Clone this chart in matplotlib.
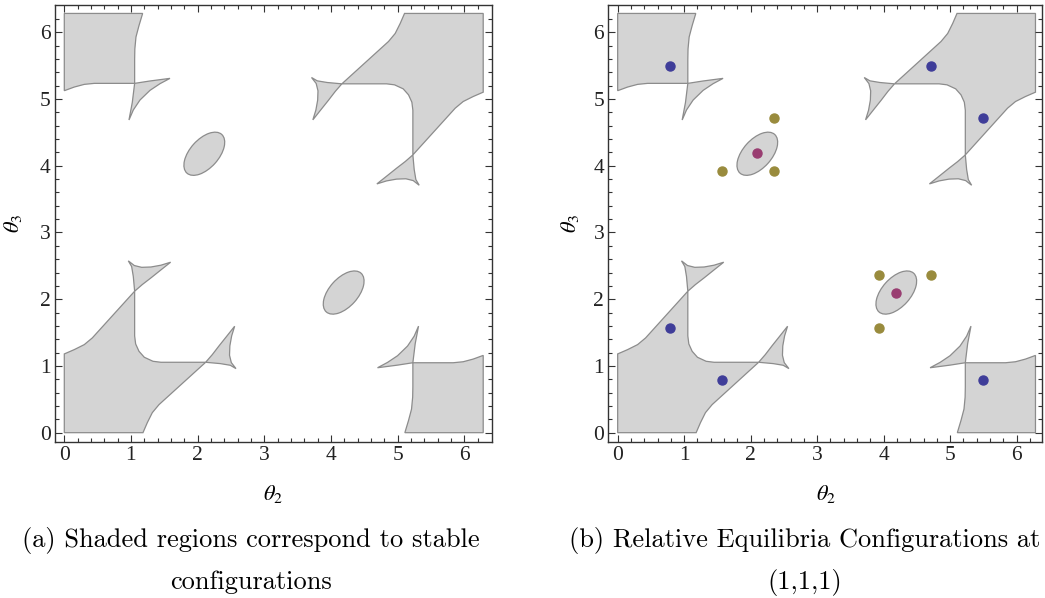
import matplotlib
matplotlib.use("Agg")
import matplotlib.pyplot as plt
from matplotlib.patches import Polygon, Ellipse

plt.rcParams['mathtext.fontset'] = 'stix'

# --- stable regions (theta2, theta3) ---
region_bl = [(0, 0), (0, 1.18), (0.15, 1.245), (0.3, 1.32), (0.42, 1.42), (1.055, 2.12),
             (1.055, 1.45), (1.07, 1.33), (1.12, 1.22), (1.2, 1.13), (1.33, 1.07), (1.45, 1.055),
             (2.12, 1.055), (1.42, 0.42), (1.32, 0.3), (1.245, 0.15), (1.18, 0)]
cusp_bl_up = [(1.055, 2.12), (1.035, 2.34), (1.01, 2.49), (0.96, 2.575), (1.05, 2.505),
              (1.16, 2.478), (1.3, 2.483), (1.45, 2.51), (1.595, 2.555), (1.45, 2.44),
              (1.3, 2.32), (1.17, 2.22)]
cusp_bl_right = [(2.12, 1.055), (2.34, 1.035), (2.49, 1.01), (2.575, 0.96), (2.505, 1.05),
                 (2.478, 1.16), (2.483, 1.3), (2.51, 1.45), (2.555, 1.595), (2.44, 1.45),
                 (2.32, 1.3), (2.22, 1.17)]
region_tl = [(0, 6.283), (1.175, 6.283), (1.12, 6.1), (1.075, 5.93), (1.058, 5.75), (1.055, 5.6),
             (1.055, 5.235), (0.45, 5.235), (0.3, 5.22), (0.15, 5.18), (0, 5.125)]
cusp_tl = [(1.055, 5.235), (1.28, 5.27), (1.585, 5.31), (1.435, 5.23), (1.285, 5.13),
           (1.135, 4.985), (1.035, 4.836), (0.97, 4.686), (1.02, 4.95)]
region_tr = [(6.283, 6.283), (6.283, 5.103), (6.133, 5.038), (5.983, 4.963), (5.863, 4.863),
             (5.228, 4.163), (5.228, 4.833), (5.213, 4.953), (5.163, 5.063), (5.083, 5.153),
             (4.953, 5.213), (4.833, 5.228), (4.163, 5.228), (4.863, 5.863), (4.963, 5.983),
             (5.038, 6.133), (5.103, 6.283)]
cusp_tr_down = [(5.228, 4.163), (5.248, 3.943), (5.273, 3.793), (5.323, 3.708), (5.233, 3.778),
                (5.123, 3.805), (4.983, 3.8), (4.833, 3.773), (4.688, 3.728), (4.833, 3.843),
                (4.983, 3.963), (5.113, 4.063)]
cusp_tr_left = [(4.163, 5.228), (3.943, 5.248), (3.793, 5.273), (3.708, 5.323), (3.778, 5.233),
                (3.805, 5.123), (3.8, 4.983), (3.773, 4.833), (3.728, 4.688), (3.843, 4.833),
                (3.963, 4.983), (4.063, 5.113)]
region_br = [(6.283, 0), (5.108, 0), (5.163, 0.183), (5.208, 0.353), (5.225, 0.533), (5.228, 0.683),
             (5.228, 1.048), (5.833, 1.048), (5.983, 1.063), (6.133, 1.103), (6.283, 1.158)]
cusp_br = [(5.228, 1.048), (5.003, 1.013), (4.698, 0.973), (4.848, 1.053), (4.998, 1.153),
           (5.148, 1.298), (5.248, 1.447), (5.313, 1.597), (5.263, 1.333)]
regions = [region_bl, cusp_bl_up, cusp_bl_right, region_tl, cusp_tl,
           region_tr, cusp_tr_down, cusp_tr_left, region_br, cusp_br]

# ellipses: centre, full width, full height, angle
ellipse_centres = [(2.1, 4.18), (4.19, 2.1)]
ellipse_w, ellipse_h, ellipse_ang = 0.78, 0.43, 48

# --- equilibria for panel (b) ---
blue_x = [0.785, 0.785, 1.571, 4.712, 5.498, 5.498]
blue_y = [5.498, 1.571, 0.785, 5.498, 4.712, 0.785]
mag_x = [2.094, 4.189]
mag_y = [4.189, 2.094]
gold_x = [1.571, 2.356, 2.356, 3.927, 4.712, 3.927]
gold_y = [3.927, 3.927, 4.712, 2.356, 2.356, 1.571]

ticks = [0, 1, 2, 3, 4, 5, 6]

FILL = '#d4d4d4'
EDGE = '#8c8c8c'
FRAME = '#333333'


def draw_panel(ax, xlim):
    for pts in regions:
        ax.add_patch(Polygon(pts, closed=True, facecolor=FILL, edgecolor=EDGE, lw=0.9))
    for c in ellipse_centres:
        ax.add_patch(Ellipse(c, ellipse_w, ellipse_h, angle=ellipse_ang,
                             facecolor=FILL, edgecolor=EDGE, lw=0.9))
    ax.set_xlim(*xlim)
    ax.set_ylim(-0.144, 6.41)
    ax.set_xticks(ticks)
    ax.set_yticks(ticks)
    ax.set_xticks([t / 5 for t in range(32)], minor=True)
    ax.set_yticks([t / 5 for t in range(32)], minor=True)
    ax.tick_params(which='both', direction='in', top=True, right=True, color=FRAME,
                   width=0.8, labelsize=15.5, labelcolor='#222222', pad=3)
    ax.tick_params(which='major', length=5)
    ax.tick_params(which='minor', length=3)
    for lab in ax.get_xticklabels() + ax.get_yticklabels():
        lab.set_fontfamily('Liberation Serif')
    for s in ax.spines.values():
        s.set_color(FRAME)
        s.set_linewidth(1.0)


fig = plt.figure(figsize=(10.45, 5.98), dpi=100)
ax1 = fig.add_axes([0.0526, 0.2604, 0.4179, 0.7313])
ax2 = fig.add_axes([0.5821, 0.2604, 0.4147, 0.7313])

draw_panel(ax1, (-0.14, 6.41))
draw_panel(ax2, (-0.141, 6.376))

ax2.plot(blue_x, blue_y, 'o', color='#3f3d99', ms=6.5, zorder=5)
ax2.plot(mag_x, mag_y, 'o', color='#993d71', ms=6.5, zorder=5)
ax2.plot(gold_x, gold_y, 'o', color='#998b3d', ms=6.5, zorder=5)

# axis labels
fig.text(0.2612, 0.1736, r'$\theta_2$', ha='center', va='center', fontsize=16)
fig.text(0.7905, 0.1736, r'$\theta_2$', ha='center', va='center', fontsize=16)
fig.text(0.0124, 0.626, r'$\theta_3$', ha='center', va='center', fontsize=16, rotation=90)
fig.text(0.5455, 0.626, r'$\theta_3$', ha='center', va='center', fontsize=16, rotation=90)

# captions
cap = dict(ha='center', va='center', fontsize=19, fontfamily='cmr10')
fig.text(251 / 1045, 1 - 540 / 598, '(a) Shaded regions correspond to stable', **cap)
fig.text(251 / 1045, 1 - 582 / 598, 'configurations', **cap)
fig.text(805 / 1045, 1 - 540 / 598, '(b) Relative Equilibria Configurations at', **cap)
fig.text(805 / 1045, 1 - 582 / 598, '(1,1,1)', **cap)

fig.savefig('out.png', dpi=100)
